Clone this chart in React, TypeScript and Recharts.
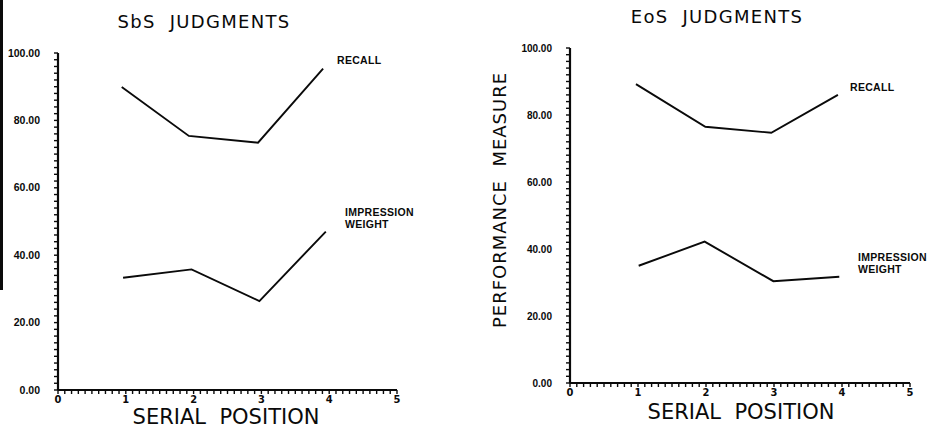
import React from "react";
import { LineChart, Line, XAxis, YAxis } from "recharts";

// serial positions as plotted (points sit slightly left of the integer ticks)
const sbsRecallX = [0.94, 1.93, 2.95, 3.91];
const sbsRecall = [89.9, 75.4, 73.4, 95.4];
const sbsImpressionX = [0.96, 1.97, 2.97, 3.95];
const sbsImpression = [33.3, 35.8, 26.4, 47.0];

const eosRecallX = [0.97, 1.99, 2.96, 3.94];
const eosRecall = [89.2, 76.5, 74.7, 86.0];
const eosImpressionX = [1.01, 1.98, 2.99, 3.96];
const eosImpression = [35.0, 42.2, 30.4, 31.7];

const serialTicks = Array.from({ length: 51 }, (_, i) => i / 10);
const measureTicks = Array.from({ length: 51 }, (_, i) => i * 2);

const toRows = (xs: number[], ys: number[]) => xs.map((x, i) => ({ x, y: ys[i] }));

const isWhole = (v: number, step: number) => Math.abs(v / step - Math.round(v / step)) < 1e-6;

const ink = "#0a0a0a";

const XTick = (props: any) => {
  const { x, y, payload } = props;
  if (!isWhole(payload.value, 1)) return <g />;
  return (
    <text
      x={x}
      y={y + 9}
      textAnchor="middle"
      fontFamily="'DejaVu Sans Condensed', 'DejaVu Sans'"
      fontWeight="bold"
      fontSize={11}
      fill={ink}
    >
      {Math.round(payload.value)}
    </text>
  );
};

const makeYTick = (size: number) => (props: any) => {
  const { x, y, payload } = props;
  if (!isWhole(payload.value, 20)) return <g />;
  return (
    <text
      x={x}
      y={y + size * 0.35}
      textAnchor="end"
      fontFamily="'Liberation Sans', Arial"
      fontWeight="bold"
      fontSize={size}
      fill={ink}
    >
      {payload.value.toFixed(2)}
    </text>
  );
};

const smallLabel: React.CSSProperties = {
  position: "absolute",
  fontFamily: "'Liberation Sans', Arial",
  fontWeight: "bold",
  fontSize: 10.5,
  lineHeight: "12px",
  letterSpacing: 0.3,
  color: ink,
  whiteSpace: "nowrap",
};

const bigText: React.CSSProperties = {
  position: "absolute",
  fontFamily: "'DejaVu Sans'",
  color: ink,
  lineHeight: 1,
  whiteSpace: "nowrap",
  textAlign: "center",
};

function Panel({
  recall,
  impression,
  marginLeft,
  marginTop,
  marginRight,
  marginBottom,
  tickSize,
}: {
  recall: { x: number; y: number }[];
  impression: { x: number; y: number }[];
  marginLeft: number;
  marginTop: number;
  marginRight: number;
  marginBottom: number;
  tickSize: number;
}) {
  return (
    <LineChart
      width={465}
      height={431}
      margin={{ top: marginTop, right: marginRight, bottom: marginBottom, left: marginLeft }}
    >
      <XAxis
        type="number"
        dataKey="x"
        domain={[0, 5]}
        ticks={serialTicks}
        interval={0}
        height={20}
        tickSize={4}
        tickMargin={0}
        tick={XTick}
        axisLine={{ stroke: ink, strokeWidth: 2.2 }}
        tickLine={{ stroke: ink, strokeWidth: 1.4 }}
        allowDataOverflow
      />
      <YAxis
        type="number"
        domain={[0, 100]}
        ticks={measureTicks}
        interval={0}
        width={50}
        tickSize={4}
        tickMargin={14}
        tick={makeYTick(tickSize)}
        axisLine={{ stroke: ink, strokeWidth: 2.2 }}
        tickLine={{ stroke: ink, strokeWidth: 1.4 }}
        allowDataOverflow
      />
      <Line
        data={recall}
        dataKey="y"
        type="linear"
        stroke={ink}
        strokeWidth={1.9}
        dot={false}
        isAnimationActive={false}
      />
      <Line
        data={impression}
        dataKey="y"
        type="linear"
        stroke={ink}
        strokeWidth={1.9}
        dot={false}
        isAnimationActive={false}
      />
    </LineChart>
  );
}

export default function App() {
  return (
    <div
      style={{
        position: "fixed",
        left: 0,
        top: 0,
        width: 930,
        height: 431,
        overflow: "hidden",
        background: "#fff",
      }}
    >
      <div style={{ position: "absolute", left: 0, top: 0 }}>
        <Panel
          recall={toRows(sbsRecallX, sbsRecall)}
          impression={toRows(sbsImpressionX, sbsImpression)}
          marginLeft={8}
          marginTop={53}
          marginRight={68}
          marginBottom={21}
          tickSize={10.5}
        />
      </div>
      <div style={{ position: "absolute", left: 0, top: 0, width: 2.5, height: 290, background: ink }} />

      <div style={{ position: "absolute", left: 465, top: 0 }}>
        <Panel
          recall={toRows(eosRecallX, eosRecall)}
          impression={toRows(eosImpressionX, eosImpression)}
          marginLeft={55}
          marginTop={48}
          marginRight={20}
          marginBottom={28}
          tickSize={10}
        />
      </div>

      <div style={{ ...bigText, left: 104, top: 13, width: 200, fontSize: 18, letterSpacing: 1.3 }}>
        SbS&nbsp;&nbsp;JUDGMENTS
      </div>
      <div style={{ ...bigText, left: 617, top: 8, width: 200, fontSize: 18, letterSpacing: 1.3 }}>
        EoS&nbsp;&nbsp;JUDGMENTS
      </div>
      <div style={{ ...bigText, left: 126, top: 407, width: 200, fontSize: 21 }}>
        SERIAL&nbsp;&nbsp;POSITION
      </div>
      <div style={{ ...bigText, left: 641, top: 402, width: 200, fontSize: 21 }}>
        SERIAL&nbsp;&nbsp;POSITION
      </div>
      <div
        style={{
          ...bigText,
          left: 500 - 150,
          top: 200 - 9,
          width: 300,
          fontSize: 18,
          letterSpacing: 1,
          transform: "rotate(-90deg)",
          transformOrigin: "150px 9px",
        }}
      >
        PERFORMANCE&nbsp;&nbsp;MEASURE
      </div>

      <div style={{ ...smallLabel, left: 337, top: 54 }}>RECALL</div>
      <div style={{ ...smallLabel, left: 345, top: 206 }}>
        IMPRESSION
        <br />
        WEIGHT
      </div>
      <div style={{ ...smallLabel, left: 850, top: 81 }}>RECALL</div>
      <div style={{ ...smallLabel, left: 858, top: 251 }}>
        IMPRESSION
        <br />
        WEIGHT
      </div>
    </div>
  );
}
